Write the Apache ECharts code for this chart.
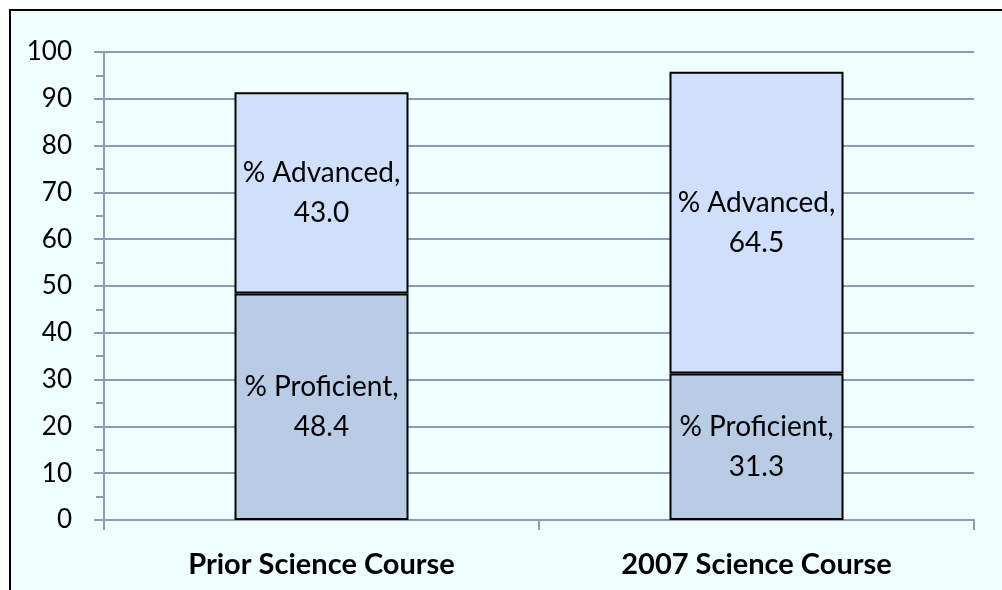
<!DOCTYPE html>
<html>
<head>
<meta charset="utf-8">
<script src="https://cdn.jsdelivr.net/npm/echarts@6/dist/echarts.min.js"></script>
<style>
  html, body { margin: 0; padding: 0; background: #fff; }
  #chart { width: 1002px; height: 590px; }
</style>
</head>
<body>
<div id="chart"></div>
<script>
const categories = ['Prior Science Course', '2007 Science Course']
const proficient = [48.4, 31.3]
const advanced = [43.0, 64.5]
const yTicks = [0, 10, 20, 30, 40, 50, 60, 70, 80, 90, 100]

const chart = echarts.init(document.getElementById('chart'))

const fontFamily = 'Lato, "Open Sans", sans-serif'
const gridColor = '#8e9bb2'

const segLabel = {
  show: true,
  position: 'inside',
  color: '#000',
  fontSize: 28,
  lineHeight: 40,
  fontFamily: fontFamily,
  formatter: (p) => p.seriesName + ',\n' + Number(p.value).toFixed(1),
}

chart.setOption({
  backgroundColor: '#fff',
  animation: false,
  graphic: [
    {
      type: 'rect',
      z: -10,
      shape: { x: 10, y: 10, width: 1000, height: 600 },
      style: { fill: '#effeff', stroke: '#000', lineWidth: 2 },
    },
  ],
  grid: { left: 104, right: 28, top: 52, bottom: 70 },
  xAxis: {
    type: 'category',
    data: categories,
    axisLine: { lineStyle: { color: gridColor, width: 2 } },
    axisTick: { show: true, length: 10, lineStyle: { color: gridColor, width: 2 } },
    axisLabel: {
      color: '#000',
      fontSize: 29,
      fontWeight: 'bold',
      fontFamily: fontFamily,
      margin: 30,
    },
  },
  yAxis: {
    type: 'value',
    min: yTicks[0],
    max: yTicks[yTicks.length - 1],
    interval: 10,
    axisLine: { show: true, lineStyle: { color: gridColor, width: 2 } },
    axisTick: { show: true, length: 10, lineStyle: { color: gridColor, width: 2 } },
    minorTick: { show: true, splitNumber: 2, length: 8, lineStyle: { color: gridColor, width: 2 } },
    splitLine: { show: true, lineStyle: { color: gridColor, width: 2 } },
    axisLabel: {
      color: '#000',
      fontSize: 26,
      fontFamily: fontFamily,
      margin: 32,
    },
  },
  series: [
    {
      name: '% Proficient',
      type: 'bar',
      stack: 'total',
      barWidth: '40%',
      data: proficient,
      itemStyle: { color: '#b9cce6', borderColor: '#000', borderWidth: 2 },
      label: segLabel,
    },
    {
      name: '% Advanced',
      type: 'bar',
      stack: 'total',
      barWidth: '40%',
      data: advanced,
      itemStyle: { color: '#d0e0fc', borderColor: '#000', borderWidth: 2 },
      label: segLabel,
    },
  ],
})
</script>
</body>
</html>
